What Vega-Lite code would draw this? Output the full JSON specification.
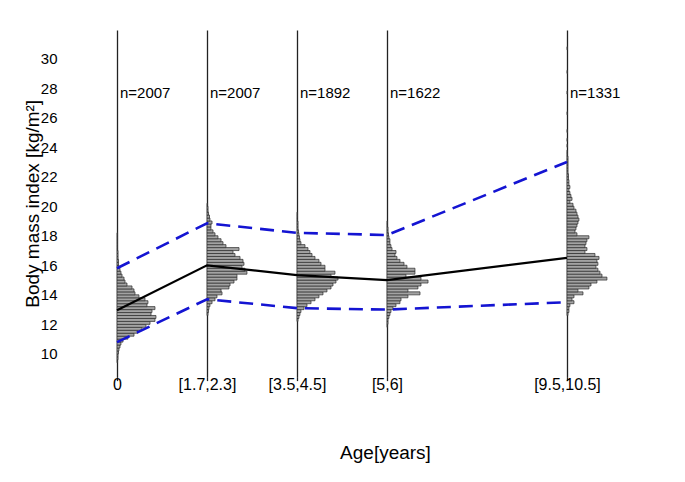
{
"$schema": "https://vega.github.io/schema/vega-lite/v6.json",
"width": 590, "height": 346.6,
"autosize": "none",
"padding": {"left": 90, "top": 30, "right": 5, "bottom": 105},
"config": {"view": {"stroke": null}, "font": "Liberation Sans"},
"datasets": {
"hist": [
{"g":0,"c":9.5,"e":0.006},{"g":0,"c":9.7,"e":0.011},{"g":0,"c":9.9,"e":0.011},{"g":0,"c":10.1,"e":0.017},{"g":0,"c":10.3,"e":0.022},{"g":0,"c":10.5,"e":0.033},{"g":0,"c":10.7,"e":0.044},{"g":0,"c":10.9,"e":0.067},{"g":0,"c":11.1,"e":0.122},{"g":0,"c":11.3,"e":0.189},{"g":0,"c":11.5,"e":0.233},{"g":0,"c":11.7,"e":0.278},{"g":0,"c":11.9,"e":0.322},{"g":0,"c":12.1,"e":0.367},{"g":0,"c":12.3,"e":0.422},{"g":0,"c":12.5,"e":0.433},{"g":0,"c":12.7,"e":0.378},{"g":0,"c":12.9,"e":0.389},{"g":0,"c":13.1,"e":0.422},{"g":0,"c":13.3,"e":0.333},{"g":0,"c":13.5,"e":0.344},{"g":0,"c":13.7,"e":0.311},{"g":0,"c":13.9,"e":0.244},{"g":0,"c":14.1,"e":0.2},{"g":0,"c":14.3,"e":0.189},{"g":0,"c":14.5,"e":0.167},{"g":0,"c":14.7,"e":0.111},{"g":0,"c":14.9,"e":0.089},{"g":0,"c":15.1,"e":0.078},{"g":0,"c":15.3,"e":0.056},{"g":0,"c":15.5,"e":0.044},{"g":0,"c":15.7,"e":0.033},{"g":0,"c":15.9,"e":0.022},{"g":0,"c":16.1,"e":0.017},{"g":0,"c":16.3,"e":0.017},{"g":0,"c":16.5,"e":0.011},{"g":0,"c":16.7,"e":0.011},{"g":0,"c":16.9,"e":0.011},{"g":0,"c":17.1,"e":0.006},{"g":0,"c":17.3,"e":0.006},{"g":0,"c":17.5,"e":0.006},{"g":0,"c":17.7,"e":0.006},{"g":0,"c":17.9,"e":0.006},{"g":0,"c":18.1,"e":0.006},
{"g":1,"c":12.7,"e":1.011},{"g":1,"c":12.9,"e":1.017},{"g":1,"c":13.1,"e":1.022},{"g":1,"c":13.3,"e":1.033},{"g":1,"c":13.5,"e":1.056},{"g":1,"c":13.7,"e":1.089},{"g":1,"c":13.9,"e":1.111},{"g":1,"c":14.1,"e":1.167},{"g":1,"c":14.3,"e":1.156},{"g":1,"c":14.5,"e":1.244},{"g":1,"c":14.7,"e":1.256},{"g":1,"c":14.9,"e":1.3},{"g":1,"c":15.1,"e":1.333},{"g":1,"c":15.3,"e":1.333},{"g":1,"c":15.5,"e":1.444},{"g":1,"c":15.7,"e":1.422},{"g":1,"c":15.9,"e":1.389},{"g":1,"c":16.1,"e":1.411},{"g":1,"c":16.3,"e":1.4},{"g":1,"c":16.5,"e":1.367},{"g":1,"c":16.7,"e":1.311},{"g":1,"c":16.9,"e":1.289},{"g":1,"c":17.1,"e":1.356},{"g":1,"c":17.3,"e":1.211},{"g":1,"c":17.5,"e":1.178},{"g":1,"c":17.7,"e":1.156},{"g":1,"c":17.9,"e":1.122},{"g":1,"c":18.1,"e":1.089},{"g":1,"c":18.3,"e":1.067},{"g":1,"c":18.5,"e":1.044},{"g":1,"c":18.7,"e":1.044},{"g":1,"c":18.9,"e":1.056},{"g":1,"c":19.1,"e":1.033},{"g":1,"c":19.3,"e":1.028},{"g":1,"c":19.5,"e":1.017},{"g":1,"c":19.7,"e":1.011},{"g":1,"c":19.9,"e":1.011},{"g":1,"c":20.1,"e":1.006},
{"g":2,"c":12.3,"e":2.011},{"g":2,"c":12.5,"e":2.022},{"g":2,"c":12.7,"e":2.033},{"g":2,"c":12.9,"e":2.044},{"g":2,"c":13.1,"e":2.078},{"g":2,"c":13.3,"e":2.111},{"g":2,"c":13.5,"e":2.156},{"g":2,"c":13.7,"e":2.2},{"g":2,"c":13.9,"e":2.244},{"g":2,"c":14.1,"e":2.289},{"g":2,"c":14.3,"e":2.333},{"g":2,"c":14.5,"e":2.378},{"g":2,"c":14.7,"e":2.4},{"g":2,"c":14.9,"e":2.433},{"g":2,"c":15.1,"e":2.456},{"g":2,"c":15.3,"e":2.378},{"g":2,"c":15.5,"e":2.422},{"g":2,"c":15.7,"e":2.311},{"g":2,"c":15.9,"e":2.311},{"g":2,"c":16.1,"e":2.267},{"g":2,"c":16.3,"e":2.244},{"g":2,"c":16.5,"e":2.2},{"g":2,"c":16.7,"e":2.167},{"g":2,"c":16.9,"e":2.144},{"g":2,"c":17.1,"e":2.122},{"g":2,"c":17.3,"e":2.089},{"g":2,"c":17.5,"e":2.044},{"g":2,"c":17.7,"e":2.033},{"g":2,"c":17.9,"e":2.028},{"g":2,"c":18.1,"e":2.022},{"g":2,"c":18.3,"e":2.017},{"g":2,"c":18.5,"e":2.011},{"g":2,"c":18.7,"e":2.011},{"g":2,"c":18.9,"e":2.011},{"g":2,"c":19.1,"e":2.006},{"g":2,"c":19.3,"e":2.006},{"g":2,"c":19.5,"e":2.006},
{"g":3,"c":11.9,"e":3.006},{"g":3,"c":12.1,"e":3.011},{"g":3,"c":12.3,"e":3.011},{"g":3,"c":12.5,"e":3.022},{"g":3,"c":12.7,"e":3.033},{"g":3,"c":12.9,"e":3.044},{"g":3,"c":13.1,"e":3.067},{"g":3,"c":13.3,"e":3.1},{"g":3,"c":13.5,"e":3.144},{"g":3,"c":13.7,"e":3.156},{"g":3,"c":13.9,"e":3.233},{"g":3,"c":14.1,"e":3.367},{"g":3,"c":14.3,"e":3.233},{"g":3,"c":14.5,"e":3.344},{"g":3,"c":14.7,"e":3.378},{"g":3,"c":14.9,"e":3.456},{"g":3,"c":15.1,"e":3.378},{"g":3,"c":15.3,"e":3.211},{"g":3,"c":15.5,"e":3.311},{"g":3,"c":15.7,"e":3.311},{"g":3,"c":15.9,"e":3.222},{"g":3,"c":16.1,"e":3.189},{"g":3,"c":16.3,"e":3.144},{"g":3,"c":16.5,"e":3.111},{"g":3,"c":16.7,"e":3.089},{"g":3,"c":16.9,"e":3.1},{"g":3,"c":17.1,"e":3.056},{"g":3,"c":17.3,"e":3.044},{"g":3,"c":17.5,"e":3.033},{"g":3,"c":17.7,"e":3.033},{"g":3,"c":17.9,"e":3.022},{"g":3,"c":18.1,"e":3.017},{"g":3,"c":18.3,"e":3.011},{"g":3,"c":18.5,"e":3.011},{"g":3,"c":18.7,"e":3.006},{"g":3,"c":18.9,"e":3.006},
{"g":5,"c":12.7,"e":5.011},{"g":5,"c":12.9,"e":5.022},{"g":5,"c":13.1,"e":5.022},{"g":5,"c":13.3,"e":5.033},{"g":5,"c":13.5,"e":5.078},{"g":5,"c":13.7,"e":5.056},{"g":5,"c":13.9,"e":5.078},{"g":5,"c":14.1,"e":5.178},{"g":5,"c":14.3,"e":5.122},{"g":5,"c":14.5,"e":5.244},{"g":5,"c":14.7,"e":5.267},{"g":5,"c":14.9,"e":5.333},{"g":5,"c":15.1,"e":5.444},{"g":5,"c":15.3,"e":5.389},{"g":5,"c":15.5,"e":5.367},{"g":5,"c":15.7,"e":5.344},{"g":5,"c":15.9,"e":5.322},{"g":5,"c":16.1,"e":5.344},{"g":5,"c":16.3,"e":5.333},{"g":5,"c":16.5,"e":5.356},{"g":5,"c":16.7,"e":5.311},{"g":5,"c":16.9,"e":5.2},{"g":5,"c":17.1,"e":5.222},{"g":5,"c":17.3,"e":5.2},{"g":5,"c":17.5,"e":5.211},{"g":5,"c":17.7,"e":5.222},{"g":5,"c":17.9,"e":5.244},{"g":5,"c":18.1,"e":5.111},{"g":5,"c":18.3,"e":5.089},{"g":5,"c":18.5,"e":5.1},{"g":5,"c":18.7,"e":5.111},{"g":5,"c":18.9,"e":5.122},{"g":5,"c":19.1,"e":5.133},{"g":5,"c":19.3,"e":5.122},{"g":5,"c":19.5,"e":5.111},{"g":5,"c":19.7,"e":5.1},{"g":5,"c":19.9,"e":5.078},{"g":5,"c":20.1,"e":5.067},{"g":5,"c":20.3,"e":5.033},{"g":5,"c":20.5,"e":5.056},{"g":5,"c":20.7,"e":5.044},{"g":5,"c":20.9,"e":5.033},{"g":5,"c":21.1,"e":5.022},{"g":5,"c":21.3,"e":5.033},{"g":5,"c":21.5,"e":5.022},{"g":5,"c":21.7,"e":5.022},{"g":5,"c":21.9,"e":5.017},{"g":5,"c":22.1,"e":5.017},{"g":5,"c":22.3,"e":5.011},{"g":5,"c":22.5,"e":5.011},{"g":5,"c":22.7,"e":5.011},{"g":5,"c":22.9,"e":5.011},{"g":5,"c":23.1,"e":5.011},{"g":5,"c":23.3,"e":5.011},{"g":5,"c":23.5,"e":5.006},{"g":5,"c":23.7,"e":5.006},{"g":5,"c":24.1,"e":5.006},{"g":5,"c":24.5,"e":5.006},{"g":5,"c":25.1,"e":5.006},{"g":5,"c":26.3,"e":5.006},{"g":5,"c":27.7,"e":5.006},{"g":5,"c":29.1,"e":5.006},{"g":5,"c":30.7,"e":5.006}
],
"stats": [
{"g":0,"median":12.95,"p_lo":10.8,"p_hi":15.8,"n":"n=2007"},
{"g":1,"median":16.0,"p_lo":13.7,"p_hi":18.85,"n":"n=2007"},
{"g":2,"median":15.33,"p_lo":13.1,"p_hi":18.2,"n":"n=1892"},
{"g":3,"median":15.0,"p_lo":13.0,"p_hi":18.05,"n":"n=1622"},
{"g":5,"median":16.5,"p_lo":13.5,"p_hi":23.0,"n":"n=1331"}
]
},
"encoding": {
 "x": {"type": "quantitative",
   "scale": {"domain": [-0.3, 6.256], "nice": false, "zero": false},
   "axis": {"values": [0,1,2,3,5],
    "labelExpr": "datum.value == 0 ? '0' : datum.value == 1 ? '[1.7,2.3]' : datum.value == 2 ? '[3.5,4.5]' : datum.value == 3 ? '[5,6]' : '[9.5,10.5]'",
    "grid": true, "gridColor": "#222222", "gridWidth": 1.3, "gridOpacity": 1,
    "domain": false, "ticks": true, "tickColor": "#222222", "tickSize": 4, "tickWidth": 1.3,
    "labelPadding": -4, "labelFontSize": 16, "labelColor": "#000000", "labelFlush": false, "labelOverlap": false,
    "title": "Age[years]", "titleFontSize": 19, "titleFontWeight": "normal", "titleColor": "#000000", "titlePadding": 51}},
 "y": {"type": "quantitative",
   "scale": {"domain": [8.8, 31.6], "nice": false, "zero": false},
   "axis": {"values": [10,12,14,16,18,20,22,24,26,28,30], "grid": false, "domain": false, "ticks": false,
    "labelPadding": 33, "labelFontSize": 15, "labelColor": "#000000", "labelOverlap": false, "labelSeparation": -40, "labelFlush": false,
    "title": "Body mass index [kg/m²]", "titleFontSize": 19, "titleFontWeight": "normal", "titleColor": "#000000", "titlePadding": -2}}
},
"layer": [
{"data": {"name": "hist"},
 "mark": {"type": "bar", "height": 3, "fill": "#a3a3a3", "stroke": "#2a2a2a", "strokeWidth": 0.7},
 "encoding": {"x": {"field": "g"}, "x2": {"field": "e"}, "y": {"field": "c"}}},
{"data": {"name": "stats"},
 "mark": {"type": "line", "color": "#1414d2", "strokeWidth": 2.6, "strokeDash": [14, 8]},
 "encoding": {"x": {"field": "g"}, "y": {"field": "p_hi"}}},
{"data": {"name": "stats"},
 "mark": {"type": "line", "color": "#1414d2", "strokeWidth": 2.6, "strokeDash": [14, 8]},
 "encoding": {"x": {"field": "g"}, "y": {"field": "p_lo"}}},
{"data": {"name": "stats"},
 "mark": {"type": "line", "color": "#000000", "strokeWidth": 2.2},
 "encoding": {"x": {"field": "g"}, "y": {"field": "median"}}},
{"data": {"name": "stats"},
 "mark": {"type": "text", "align": "left", "baseline": "middle", "dx": 3, "fontSize": 15, "color": "#000000"},
 "encoding": {"x": {"field": "g"}, "y": {"datum": 27.65}, "text": {"field": "n"}}}
]
}
